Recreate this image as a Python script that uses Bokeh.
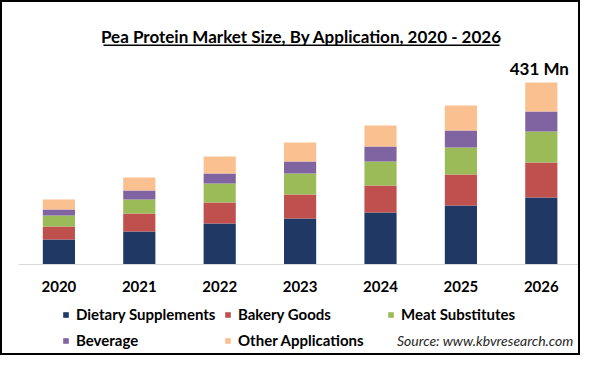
from bokeh.plotting import figure
from bokeh.models import ColumnDataSource, Label, Legend, BoxAnnotation, Range1d
from bokeh.embed import file_html
from bokeh.resources import INLINE

years = ["2020", "2021", "2022", "2023", "2024", "2025", "2026"]
segments = ["Dietary Supplements", "Bakery Goods", "Meat Substitutes", "Beverage", "Other Applications"]
dietary = [59.2, 78.1, 97.1, 108.9, 123.1, 139.7, 158.7]
bakery = [30.8, 42.6, 49.7, 56.8, 63.9, 73.4, 82.9]
meat = [26.0, 33.2, 45.0, 49.7, 56.8, 63.9, 73.4]
beverage = [14.2, 21.3, 23.7, 28.4, 35.5, 40.3, 47.4]
other = [23.7, 30.8, 40.3, 45.0, 49.7, 59.2, 68.6]
colors = ["#1F3864", "#C0504D", "#9BBB59", "#8064A2", "#FAC090"]
total_label = "431 Mn"
title_text = "Pea Protein Market Size, By Application, 2020 - 2026"
source_text = "Source: www.kbvresearch.com"

xs = list(range(len(years)))
keys = ["dietary", "bakery", "meat", "beverage", "other"]
src = ColumnDataSource(dict(x=xs, dietary=dietary, bakery=bakery, meat=meat,
                            beverage=beverage, other=other))
totals = [sum(v) for v in zip(dietary, bakery, meat, beverage, other)]

FONT = "Lato"
W, H = 580, 355

p = figure(width=W, height=H, output_backend="svg", toolbar_location=None,
           x_axis_type=None, y_axis_type=None,
           x_range=Range1d(-0.7015, 6.5124), y_range=Range1d(-220.2, 620.4),
           min_border=0)
p.styles = {"border": "2px solid black"}
p.outline_line_color = None
p.xgrid.visible = False
p.ygrid.visible = False

renderers = p.vbar_stack(keys, x="x", width=0.40, source=src, color=colors, line_color=None)

# category axis line and year labels
p.segment(x0=[xs[0] - 0.5], x1=[xs[-1] + 0.5], y0=[0], y1=[0], line_color="#D9D9D9", line_width=1)
p.text(x=xs, y=[0] * len(xs), text=years, y_offset=22, text_align="center",
       text_baseline="middle", text_font={"value": FONT}, text_font_style="bold",
       text_font_size="15px", text_color="black")

p.add_layout(Label(x=xs[-1], y=totals[-1], y_offset=3, x_offset=-2, text=total_label,
                   text_align="center", text_baseline="bottom", text_font=FONT,
                   text_font_style="bold", text_font_size="17px", text_color="black"))

p.add_layout(Label(x=299, y=H - 34, x_units="screen", y_units="screen", text=title_text,
                   text_align="center", text_baseline="middle", text_font=FONT,
                   text_font_style="bold", text_font_size="17px", text_color="black"))
p.add_layout(BoxAnnotation(left=101, right=497, bottom=H - 43.5, top=H - 42,
                           left_units="screen", right_units="screen",
                           bottom_units="screen", top_units="screen",
                           fill_color="black", fill_alpha=1, line_color=None))

p.add_layout(Label(x=571, y=H - 338, x_units="screen", y_units="screen", text=source_text,
                   text_align="right", text_baseline="middle", text_font=FONT,
                   text_font_style="italic", text_font_size="14px", text_color="#262626"))

by_name = dict(zip(segments, renderers))
legend_columns = [
    (["Dietary Supplements", "Beverage"], 60, 8),
    (["Bakery Goods", "Other Applications"], 222, 8),
    (["Meat Substitutes"], 385, 34),
]
for names, lx, ly in legend_columns:
    lg = Legend(items=[(n, [by_name[n]]) for n in names],
                location=(lx, ly), orientation="vertical",
                glyph_width=7, glyph_height=7, label_standoff=7, label_height=18,
                spacing=8, padding=0, margin=0, border_line_color=None,
                background_fill_color=None, label_text_font=FONT,
                label_text_font_style="bold", label_text_font_size="15px",
                label_text_color="black")
    p.add_layout(lg, "center")

open("out.html", "w").write(file_html(p, INLINE))
